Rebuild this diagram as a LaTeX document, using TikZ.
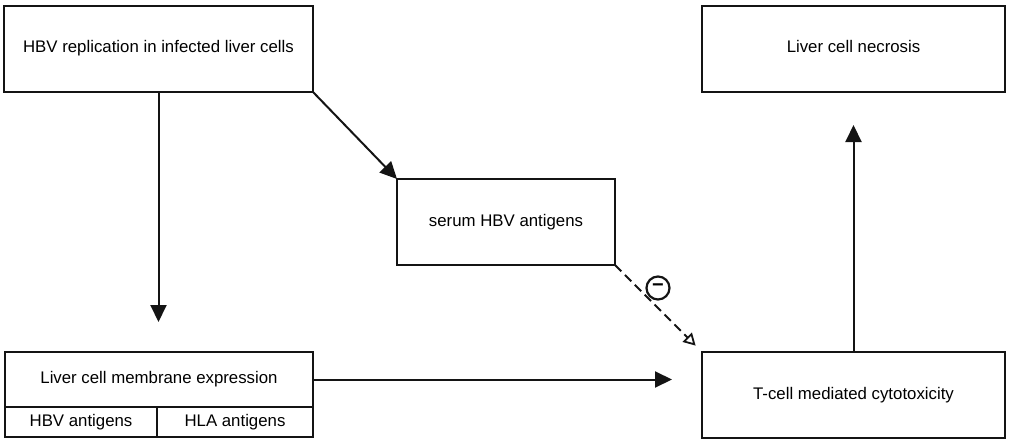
\documentclass[tikz,border=0pt]{standalone}
\usepackage{fontspec}
\setmainfont{Liberation Sans}
\usetikzlibrary{arrows.meta,calc}
\definecolor{LineClr}{rgb}{0.08,0.08,0.08}

\begin{document}
\begin{tikzpicture}[x=1pt,y=1pt,
  box/.style={draw=LineClr,line width=1.8pt,rectangle,inner sep=0pt,outer sep=0pt,font=\fontsize{16.8}{19}\selectfont},
  flow/.style={line width=2pt,color=LineClr,-{Triangle[length=17pt,width=16pt]}},
  inhib/.style={line width=1.8pt,color=LineClr,dash pattern=on 9pt off 5pt,-{Triangle[open,length=12pt,width=13pt,line width=1.8pt]}}]
\useasboundingbox (0,0) rectangle (1009,440);

\node[box,minimum width=309pt,minimum height=86pt] (rep) at (158.5,391) {\raisebox{5pt}{HBV replication in infected liver cells}};
\node[box,minimum width=303pt,minimum height=86pt] (nec) at (853.5,391) {\raisebox{5pt}{Liver cell necrosis}};
\node[box,minimum width=218pt,minimum height=86pt] (serum) at (506,218) {serum HBV antigens};
\node[box,minimum width=303pt,minimum height=86pt] (tcell) at (853.5,45) {\raisebox{3pt}{T-cell mediated cytotoxicity}};

\node[box,minimum width=308pt,minimum height=55pt] (mem) at (159,60.5) {Liver cell membrane expression};
\node[box,minimum width=152pt,minimum height=30pt,anchor=north west] (hbv) at (mem.south west) {HBV antigens};
\node[box,minimum width=156pt,minimum height=30pt,anchor=north east] (hla) at (mem.south east) {HLA antigens};

\node[circle,draw=LineClr,line width=2.2pt,inner sep=0pt,minimum size=23pt,font=\bfseries\fontsize{20}{20}\selectfont] (neg) at (658,152) {−};

\draw[flow,shorten >=30pt] (rep.south) -- (mem.north -| rep.south);
\draw[flow] (rep.south east) -- (serum.north west);
\draw[inhib,shorten >=9pt] (serum.south east) -- (tcell.north west);
\draw[flow,shorten >=30pt] (mem.east) -- (mem.east -| tcell.west);
\draw[flow,shorten >=33pt] (tcell.north) -- (nec.south);

\end{tikzpicture}
\end{document}
